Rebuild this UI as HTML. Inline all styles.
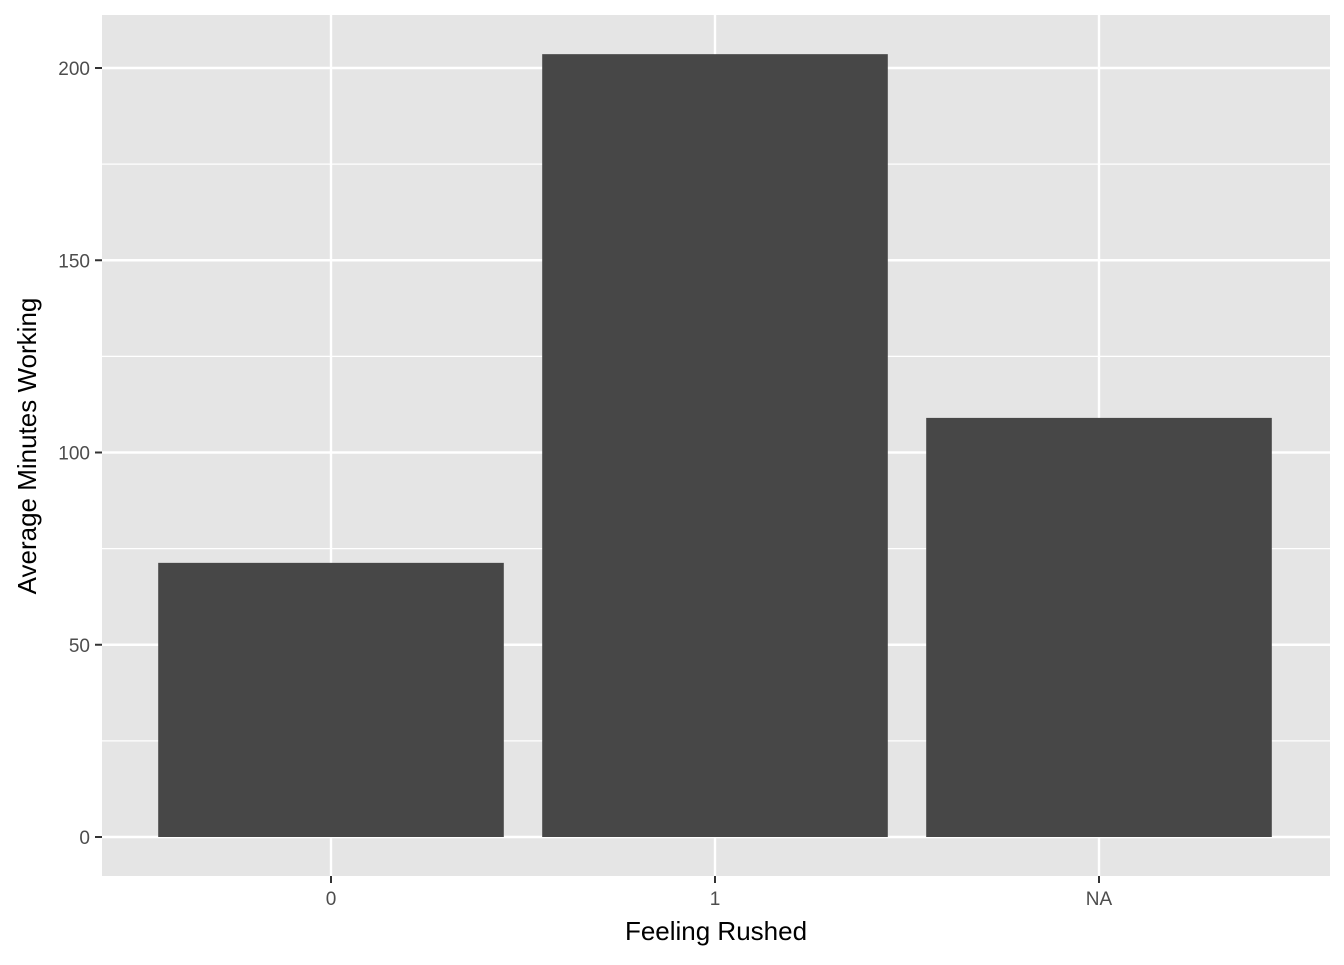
<!DOCTYPE html>
<html><head><meta charset="utf-8"><style>
body{margin:0;background:#fff}
svg text{font-family:"Liberation Sans",Arial,sans-serif}
</style></head><body>
<svg id="chart" width="1344" height="960" xmlns="http://www.w3.org/2000/svg">
<rect x="102" y="15" width="1228" height="861" fill="#e5e5e5"/>
<g id="grid"></g><g id="bars"></g><g id="axes"></g>
<text x="716" y="940" font-size="26" text-anchor="middle" fill="#000">Feeling Rushed</text>
<text transform="translate(36,446) rotate(-90)" font-size="26" text-anchor="middle" fill="#000">Average Minutes Working</text>
</svg>
<script>
const categories=["0","1","NA"];
const values=[71.3,203.6,109.0];
const yTicks=[0,50,100,150,200];
const NS="http://www.w3.org/2000/svg";
const y=v=>837-v*3.845;
const x=i=>331+i*384;
const bw=345.6;
function mk(t,a,p){const e=document.createElementNS(NS,t);for(const k in a)e.setAttribute(k,a[k]);p.appendChild(e);return e;}
const grid=document.getElementById('grid'),bars=document.getElementById('bars'),axes=document.getElementById('axes');
for(let i=0;i<yTicks.length-1;i++){const m=(yTicks[i]+yTicks[i+1])/2;
const l=mk('line',{x1:102,x2:1330,y1:y(m),y2:y(m),stroke:'#fff','stroke-width':1.2},grid);

}
yTicks.forEach(t=>{const l=mk('line',{x1:102,x2:1330,y1:y(t),y2:y(t),stroke:'#fff','stroke-width':2.4},grid);


const tk=mk('line',{x1:95,x2:102,y1:y(t),y2:y(t),stroke:'#333','stroke-width':2},axes);


const tx=mk('text',{x:90,y:y(t)+7,'font-size':19,'text-anchor':'end',fill:'#4d4d4d'},axes);tx.textContent=t;

});
categories.forEach((c,i)=>{const l=mk('line',{x1:x(i),x2:x(i),y1:15,y2:876,stroke:'#fff','stroke-width':2.4},grid);


const b=mk('rect',{x:x(i)-bw/2,y:y(values[i]),width:bw,height:y(0)-y(values[i]),fill:'#474747'},bars);


const tk=mk('line',{x1:x(i),x2:x(i),y1:876,y2:883,stroke:'#333','stroke-width':2},axes);


const tx=mk('text',{x:x(i),y:905,'font-size':19,'text-anchor':'middle',fill:'#4d4d4d'},axes);tx.textContent=c;

});
</script>
</body></html>
